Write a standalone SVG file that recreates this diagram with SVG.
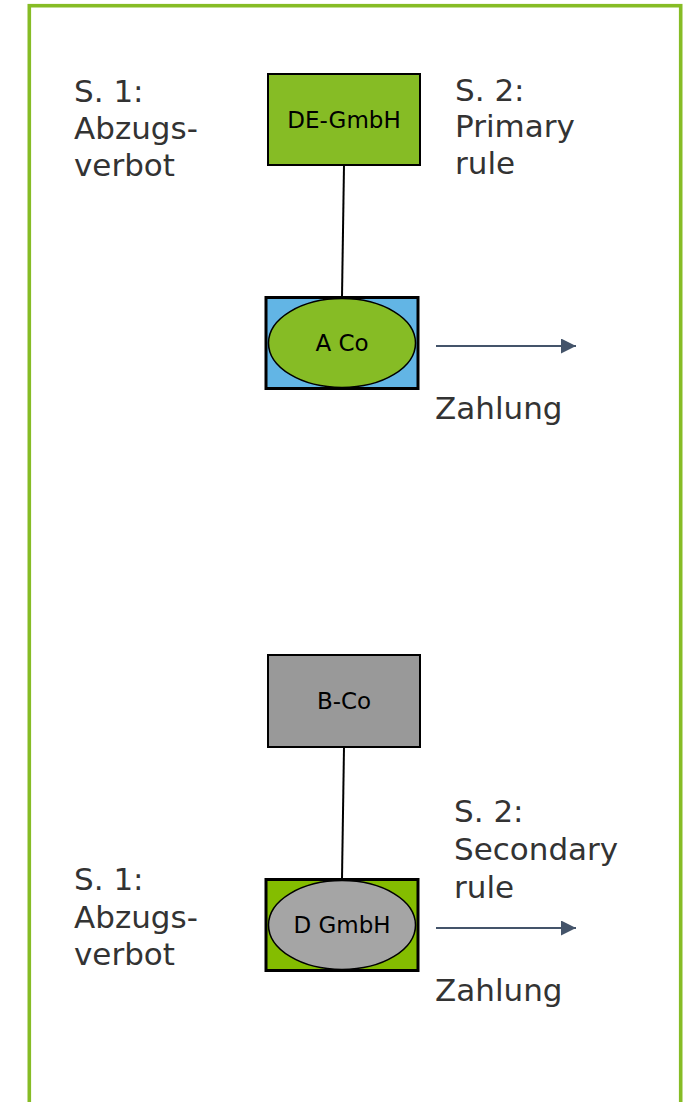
<svg xmlns="http://www.w3.org/2000/svg" width="687" height="1102" viewBox="0 0 687 1102">
<style>
.lbl{font-family:"DejaVu Sans","Liberation Sans",sans-serif;font-size:31px;fill:#333333}
.nt{font-family:"DejaVu Sans","Liberation Sans",sans-serif;font-size:23px;fill:#000;text-anchor:middle;dominant-baseline:central}
.box{stroke:#000;stroke-width:2}
.box3{stroke:#000;stroke-width:3}
.ell{stroke:#000;stroke-width:1.5}
.link{stroke:#000;stroke-width:2;fill:none}
.flow{stroke:#44546a;stroke-width:2;fill:none;marker-end:url(#ah)}
</style>
<defs>
<marker id="ah" markerWidth="16" markerHeight="16" refX="15" refY="7.5" orient="auto" markerUnits="userSpaceOnUse">
<path d="M0,0 L15,7.5 L0,15 Z" fill="#44546a"/>
</marker>
</defs>
<rect x="29.3" y="5.7" width="651.4" height="1110" fill="none" stroke="#86bc25" stroke-width="3.6"/>
<g id="connectors">
<line class="link" x1="344" y1="165" x2="342" y2="297"/>
<line class="link" x1="344" y1="747" x2="342" y2="879"/>
<line class="flow" x1="436" y1="346" x2="576" y2="346"/>
<line class="flow" x1="436" y1="928" x2="576" y2="928"/>
</g>
<g id="de-gmbh">
<rect class="box" x="268" y="74" width="152" height="91" fill="#86bc25"/>
<text class="nt" x="344" y="120">DE-GmbH</text>
</g>
<g id="a-co">
<rect class="box3" x="266" y="297.5" width="152" height="91" fill="#62b5e5"/>
<ellipse class="ell" cx="342" cy="343" rx="73.5" ry="44.5" fill="#86bc25"/>
<text class="nt" x="342" y="343">A Co</text>
</g>
<g id="b-co">
<rect class="box" x="268" y="655" width="152" height="92" fill="#999999"/>
<text class="nt" x="344" y="701">B-Co</text>
</g>
<g id="d-gmbh">
<rect class="box3" x="266" y="879.5" width="152" height="91" fill="#84bd00"/>
<ellipse class="ell" cx="342" cy="925" rx="73.5" ry="44.5" fill="#a5a5a5"/>
<text class="nt" x="342" y="925">D GmbH</text>
</g>
<g id="labels">
<text class="lbl" x="74" y="101.5">S. 1:</text>
<text class="lbl" x="74" y="138.5">Abzugs-</text>
<text class="lbl" x="74" y="175.5">verbot</text>
<text class="lbl" x="455" y="101">S. 2:</text>
<text class="lbl" x="455" y="137">Primary</text>
<text class="lbl" x="455" y="173.5">rule</text>
<text class="lbl" x="435" y="419">Zahlung</text>
<text class="lbl" x="454" y="821.5">S. 2:</text>
<text class="lbl" x="454" y="860">Secondary</text>
<text class="lbl" x="454" y="898">rule</text>
<text class="lbl" x="74" y="889.5">S. 1:</text>
<text class="lbl" x="74" y="927.5">Abzugs-</text>
<text class="lbl" x="74" y="965">verbot</text>
<text class="lbl" x="435" y="1001">Zahlung</text>
</g>
</svg>
